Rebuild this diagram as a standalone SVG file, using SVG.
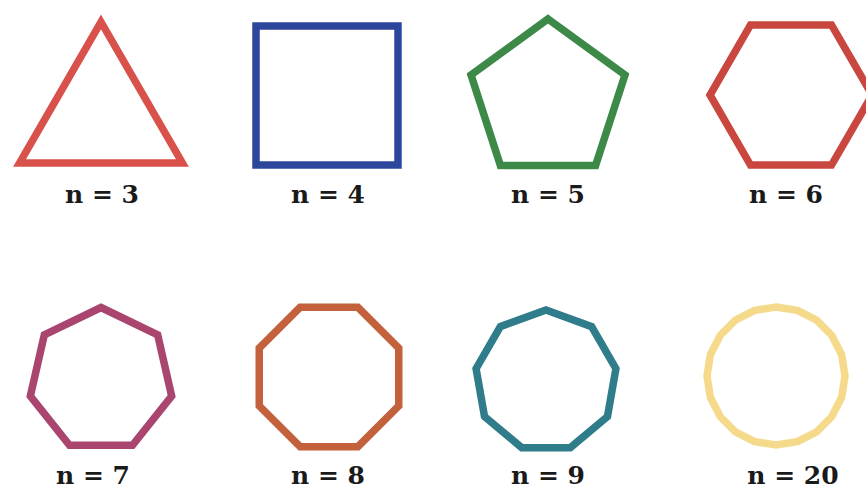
<svg xmlns="http://www.w3.org/2000/svg" width="866" height="490" viewBox="0 0 866 490">
<style>
.s{fill:none;stroke-width:7.5;stroke-linejoin:miter;stroke-miterlimit:12}
.t{font-family:"DejaVu Serif","Liberation Serif",serif;font-weight:bold;font-size:25px;fill:#1a1a1a;text-anchor:middle}
</style>
<rect width="866" height="490" fill="#ffffff"/>
<g id="n3"><polygon class="s" stroke="#d9514b" points="101,22 182.4,163 19.6,163"/><text class="t" x="102" y="203">n = 3</text></g>
<g id="n4"><rect class="s" stroke="#2c469c" x="256" y="26" width="142" height="139"/><text class="t" x="328" y="203">n = 4</text></g>
<g id="n5"><polygon class="s" stroke="#3d8a48" points="548,19 625,75 595.6,165.5 500.4,165.5 471,75"/><text class="t" x="548" y="203">n = 5</text></g>
<g id="n6"><polygon class="s" stroke="#c9473f" points="872,95 831.5,165.1 750.5,165.1 710,95 750.5,24.9 831.5,24.9"/><text class="t" x="786" y="203">n = 6</text></g>
<g id="n7"><polygon class="s" stroke="#a9456f" points="101,307.5 157.68,334.8 171.68,396.13 132.46,445.32 69.54,445.32 30.32,396.13 44.32,334.8"/><text class="t" x="93" y="484">n = 7</text></g>
<g id="n8"><polygon class="s" stroke="#c2613b" points="398.75,405.89 357.89,446.75 300.11,446.75 259.25,405.89 259.25,348.11 300.11,307.25 357.89,307.25 398.75,348.11"/><text class="t" x="328" y="484">n = 8</text></g>
<g id="n9"><polygon class="s" stroke="#2f7c8b" points="546,310 591.64,326.61 615.92,368.67 607.49,416.5 570.28,447.72 521.72,447.72 484.51,416.5 476.08,368.67 500.36,326.61"/><text class="t" x="548" y="484">n = 9</text></g>
<g id="n20"><polygon class="s" stroke="#f4da8a" points="776,307 797.32,310.38 816.56,320.18 831.82,335.44 841.62,354.68 845,376 841.62,397.32 831.82,416.56 816.56,431.82 797.32,441.62 776,445 754.68,441.62 735.44,431.82 720.18,416.56 710.38,397.32 707,376 710.38,354.68 720.18,335.44 735.44,320.18 754.68,310.38"/><text class="t" x="793" y="484">n = 20</text></g>
<g id="connectors"/>
</svg>
